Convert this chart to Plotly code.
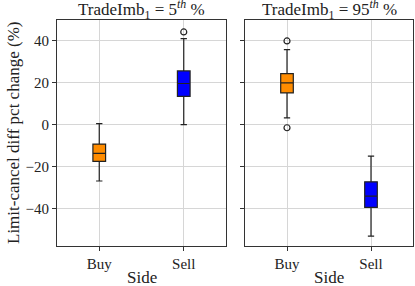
import plotly.graph_objects as go

sides = ["Buy", "Sell"]
panel_titles = ["TradeImb<sub>1</sub> = 5<sup><i>th</i></sup> %",
                "TradeImb<sub>1</sub> = 95<sup><i>th</i></sup> %"]
box_colors = ["#ff8c00", "#0000ff"]

# panel 1 (5th pct): Buy, Sell
p1_q1 = [-17.5, 13.5]
p1_median = [-13.7, 19.6]
p1_q3 = [-9.3, 25.6]
p1_low = [-26.9, 0.0]
p1_high = [0.5, 41.0]
p1_outliers = [[], [44.2]]

# panel 2 (95th pct): Buy, Sell
p2_q1 = [15.1, -39.5]
p2_median = [19.9, -34.1]
p2_q3 = [24.3, -27.3]
p2_low = [3.2, -53.2]
p2_high = [35.8, -15.0]
p2_outliers = [[39.9, -1.5], []]

y_ticks = [-40, -20, 0, 20, 40]
y_range = [-57.9, 49.9]

FONT = "'Liberation Serif', 'Times New Roman', serif"
fig = go.Figure()

panels = [
    (p1_q1, p1_median, p1_q3, p1_low, p1_high, p1_outliers, "x", "y"),
    (p2_q1, p2_median, p2_q3, p2_low, p2_high, p2_outliers, "x2", "y2"),
]
for q1, med, q3, lo, hi, outs, xa, ya in panels:
    for i, side in enumerate(sides):
        fig.add_trace(go.Box(
            x=[side], q1=[q1[i]], median=[med[i]], q3=[q3[i]],
            lowerfence=[lo[i]], upperfence=[hi[i]],
            fillcolor=box_colors[i], line=dict(color="#222222", width=1.2),
            width=0.15, whiskerwidth=0.5, boxpoints=False,
            xaxis=xa, yaxis=ya, showlegend=False, hoverinfo="skip"))
        if outs[i]:
            fig.add_trace(go.Scatter(
                x=[side] * len(outs[i]), y=outs[i], mode="markers",
                marker=dict(symbol="circle-open", size=6, color="#222222",
                            line=dict(width=1.2)),
                xaxis=xa, yaxis=ya, showlegend=False, hoverinfo="skip"))

axis_common = dict(
    showline=True, mirror=True, linecolor="#333333", linewidth=1.2,
    showgrid=True, gridcolor="#d6d6d6", gridwidth=1,
    ticks="outside", ticklen=4, tickcolor="#333333", tickwidth=1.2,
    zeroline=False, automargin=False,
    tickfont=dict(family=FONT, size=15, color="#222222"),
)

L, R = 57, 413
W = R - L
d1 = [0, (226 - L) / W]
d2 = [(245 - L) / W, 1]

fig.update_layout(
    template="none",
    width=415, height=286,
    margin=dict(l=L, r=415 - R, t=20, b=40, pad=0),
    paper_bgcolor="white", plot_bgcolor="white",
    font=dict(family=FONT, color="#222222"),
    xaxis=dict(domain=d1, type="category", categoryorder="array",
               categoryarray=sides, range=[-0.5, 1.5], **axis_common),
    xaxis2=dict(domain=d2, type="category", categoryorder="array",
                categoryarray=sides, range=[-0.5, 1.5],
                anchor="y2", **axis_common),
    yaxis=dict(domain=[0, 1], range=y_range, tickvals=y_ticks,
               **axis_common),
    yaxis2=dict(domain=[0, 1], range=y_range, tickvals=y_ticks,
                showticklabels=False, anchor="x2", matches="y", **axis_common),
)

# panel titles
for txt, dom in zip(panel_titles, [d1, d2]):
    fig.add_annotation(text=txt, x=(dom[0] + dom[1]) / 2, y=1, xref="paper", yref="paper",
                       xanchor="center", yanchor="bottom", showarrow=False,
                       yshift=-4, font=dict(family=FONT, size=17, color="#222222"))
# x-axis titles
for dom in [d1, d2]:
    fig.add_annotation(text="Side", x=(dom[0] + dom[1]) / 2, y=0, xref="paper", yref="paper",
                       xanchor="center", yanchor="top", showarrow=False,
                       yshift=-20, font=dict(family=FONT, size=17, color="#222222"))
# y-axis title
fig.add_annotation(text="Limit-cancel diff pct change (%)", x=0, y=0.5,
                   xref="paper", yref="paper", xanchor="center", yanchor="middle",
                   xshift=-44, textangle=-90, showarrow=False,
                   font=dict(family=FONT, size=17, color="#222222"))

fig.write_html("out.html", config={"displayModeBar": False},
               post_script="document.body.style.margin='0';document.body.style.overflow='hidden';")
